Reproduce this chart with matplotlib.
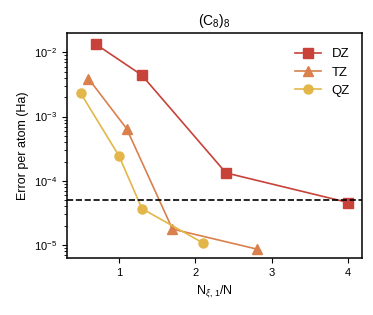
import matplotlib
matplotlib.use("Agg")
import matplotlib.pyplot as plt

plt.rcParams['font.family'] = ['Liberation Sans', 'DejaVu Sans']
plt.rcParams['mathtext.fontset'] = 'custom'
plt.rcParams['mathtext.rm'] = 'Liberation Sans'
plt.rcParams['mathtext.it'] = 'Liberation Sans:italic'
plt.rcParams['axes.linewidth'] = 1.1

dz_x = [0.7, 1.3, 2.4, 4.0]
dz_y = [1.33e-2, 4.4e-3, 1.33e-4, 4.6e-5]
tz_x = [0.6, 1.1, 1.7, 2.8]
tz_y = [3.9e-3, 6.5e-4, 1.78e-5, 8.7e-6]
qz_x = [0.5, 1.0, 1.3, 2.1]
qz_y = [2.3e-3, 2.45e-4, 3.7e-5, 1.08e-5]
threshold = 5e-5

fig = plt.figure(figsize=(3.73, 3.15), dpi=100)
ax = fig.add_axes([67/373, 1-258/315, (362-67)/373, (258-33)/315])

ax.plot(dz_x, dz_y, '-s', color='#c8423a', ms=6.5, lw=1.2, label='DZ')
ax.plot(tz_x, tz_y, '-^', color='#d9804d', ms=6.5, lw=1.2, label='TZ')
ax.plot(qz_x, qz_y, '-o', color='#e3b64a', ms=6.5, lw=1.2, label='QZ')
ax.axhline(threshold, color='black', ls='--', lw=1.2)

ax.set_yscale('log')
ax.set_xlim(0.32, 4.18)
ax.set_ylim(10**-5.2, 10**-1.70)
ax.set_xticks([1, 2, 3, 4])
ax.tick_params(labelsize=8)
ax.set_title('(C$_8$)$_8$', fontsize=10)
ax.set_xlabel(r'N$_{\xi,\,1}$/N', fontsize=9)
ax.set_ylabel('Error per atom (Ha)', fontsize=9)
ax.legend(frameon=False, fontsize=9.5, loc='upper right',
          bbox_to_anchor=(1.0, 0.985), labelspacing=0.45)

fig.savefig('out.png', dpi=100)
